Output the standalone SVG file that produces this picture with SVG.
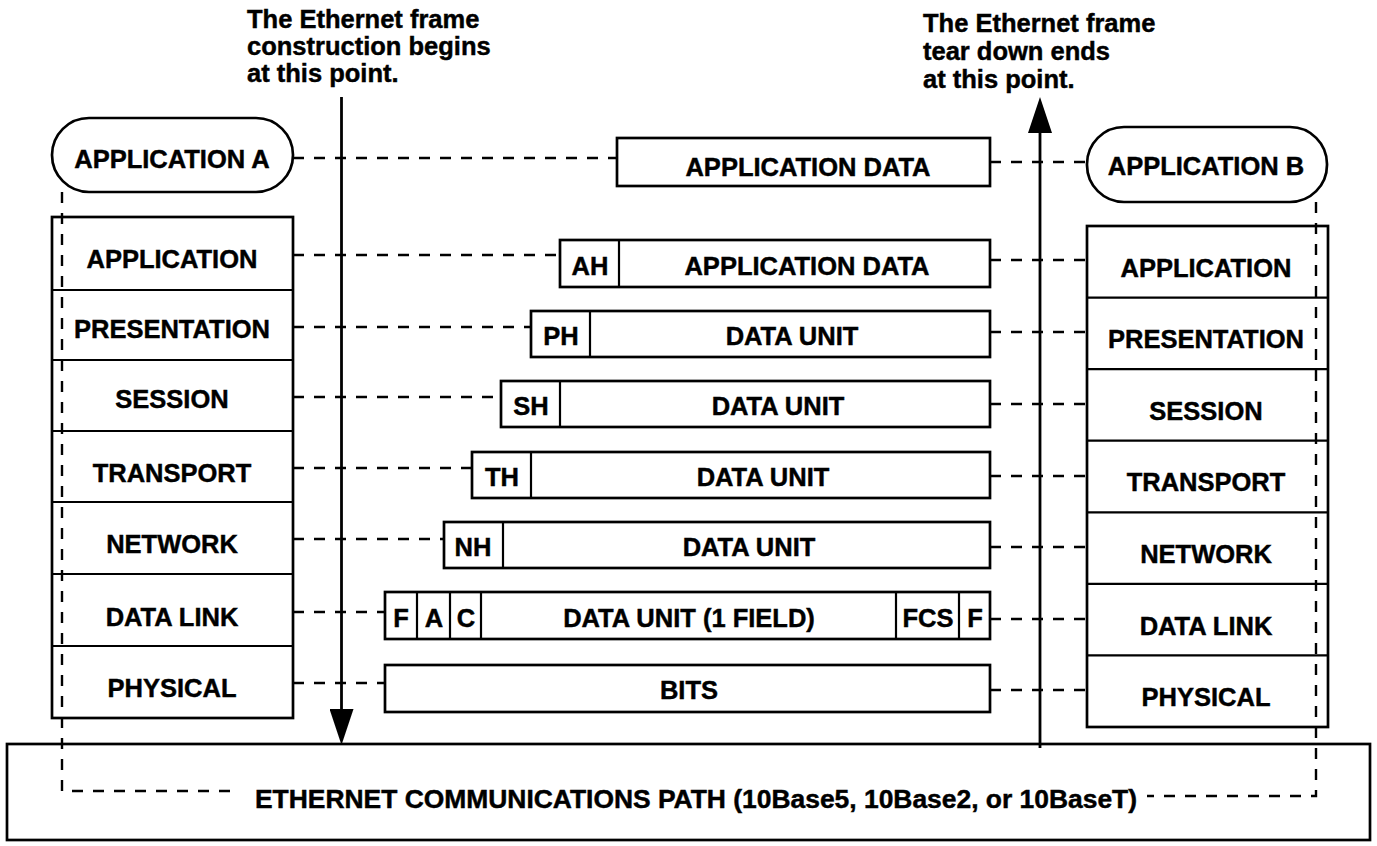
<svg xmlns="http://www.w3.org/2000/svg" width="1377" height="846" viewBox="0 0 1377 846">
<defs>
<style>
.box{fill:#fff;stroke:#000;stroke-width:2.7}
.div{stroke:#000;stroke-width:2.2}
.dash{fill:none;stroke:#000;stroke-width:2.4;stroke-dasharray:11 10}
.arr{stroke:#000;stroke-width:2.8;fill:none}
.t{font-family:"Liberation Sans",Arial,Helvetica,sans-serif;font-weight:bold;font-size:25.5px;fill:#000;stroke:#000;stroke-width:0.45}
.c{text-anchor:middle}
</style>
<marker id="ah" viewBox="0 0 36 24" refX="26" refY="12" markerWidth="36" markerHeight="24" markerUnits="userSpaceOnUse" orient="auto">
<path d="M0,0 L36,12 L0,24 Z" fill="#000"/>
</marker>
</defs>
<rect width="1377" height="846" fill="#fff"/>

<!-- Ethernet path box -->
<g id="ethernet-path">
<rect class="box" x="7" y="744" width="1363" height="96"/>
<text class="t" x="255" y="808" textLength="882" lengthAdjust="spacingAndGlyphs">ETHERNET COMMUNICATIONS PATH (10Base5, 10Base2, or 10BaseT)</text>
</g>

<!-- Annotations -->
<g id="note-left">
<text class="t" x="247" y="28">The Ethernet frame</text>
<text class="t" x="247" y="55">construction begins</text>
<text class="t" x="247" y="82">at this point.</text>
</g>
<g id="note-right">
<text class="t" x="923" y="32">The Ethernet frame</text>
<text class="t" x="923" y="60">tear down ends</text>
<text class="t" x="923" y="88">at this point.</text>
</g>

<!-- Application A / B -->
<g id="app-a">
<rect class="box" x="52" y="118" width="241" height="74" rx="37" ry="37"/>
<text class="t c" x="172" y="168">APPLICATION A</text>
</g>
<g id="app-b">
<rect class="box" x="1087" y="127" width="240" height="75" rx="37" ry="37"/>
<text class="t c" x="1206" y="175">APPLICATION B</text>
</g>

<!-- Left stack -->
<g id="stack-a">
<rect class="box" x="52" y="217" width="241" height="501"/>
<line class="div" x1="52" y1="290" x2="293" y2="290"/>
<line class="div" x1="52" y1="360" x2="293" y2="360"/>
<line class="div" x1="52" y1="431" x2="293" y2="431"/>
<line class="div" x1="52" y1="502" x2="293" y2="502"/>
<line class="div" x1="52" y1="574" x2="293" y2="574"/>
<line class="div" x1="52" y1="646" x2="293" y2="646"/>
<text class="t c" x="172" y="268">APPLICATION</text>
<text class="t c" x="172" y="338">PRESENTATION</text>
<text class="t c" x="172" y="408">SESSION</text>
<text class="t c" x="172" y="482">TRANSPORT</text>
<text class="t c" x="172" y="553">NETWORK</text>
<text class="t c" x="172" y="626">DATA LINK</text>
<text class="t c" x="172" y="697">PHYSICAL</text>
</g>

<!-- Right stack -->
<g id="stack-b">
<rect class="box" x="1087" y="226" width="241" height="501"/>
<line class="div" x1="1087" y1="297.6" x2="1328" y2="297.6"/>
<line class="div" x1="1087" y1="369.1" x2="1328" y2="369.1"/>
<line class="div" x1="1087" y1="440.7" x2="1328" y2="440.7"/>
<line class="div" x1="1087" y1="512.3" x2="1328" y2="512.3"/>
<line class="div" x1="1087" y1="583.9" x2="1328" y2="583.9"/>
<line class="div" x1="1087" y1="655.4" x2="1328" y2="655.4"/>
<text class="t c" x="1206" y="277">APPLICATION</text>
<text class="t c" x="1206" y="348">PRESENTATION</text>
<text class="t c" x="1206" y="420">SESSION</text>
<text class="t c" x="1206" y="491">TRANSPORT</text>
<text class="t c" x="1206" y="563">NETWORK</text>
<text class="t c" x="1206" y="635">DATA LINK</text>
<text class="t c" x="1206" y="706">PHYSICAL</text>
</g>

<!-- Middle data units -->
<g id="pdu-app">
<rect class="box" x="617" y="138" width="373" height="48"/>
<text class="t c" x="808" y="176">APPLICATION DATA</text>
</g>
<g id="pdu-ah">
<rect class="box" x="560" y="240" width="430" height="47"/>
<line class="div" x1="619" y1="240" x2="619" y2="287"/>
<text class="t c" x="590" y="275">AH</text>
<text class="t c" x="807" y="275">APPLICATION DATA</text>
</g>
<g id="pdu-ph">
<rect class="box" x="531" y="311" width="459" height="46"/>
<line class="div" x1="590" y1="311" x2="590" y2="357"/>
<text class="t c" x="561" y="345">PH</text>
<text class="t c" x="792" y="345">DATA UNIT</text>
</g>
<g id="pdu-sh">
<rect class="box" x="501" y="381" width="489" height="46"/>
<line class="div" x1="560" y1="381" x2="560" y2="427"/>
<text class="t c" x="531" y="415">SH</text>
<text class="t c" x="778" y="415">DATA UNIT</text>
</g>
<g id="pdu-th">
<rect class="box" x="472" y="452" width="518" height="46"/>
<line class="div" x1="531" y1="452" x2="531" y2="498"/>
<text class="t c" x="502" y="486">TH</text>
<text class="t c" x="763" y="486">DATA UNIT</text>
</g>
<g id="pdu-nh">
<rect class="box" x="444" y="522" width="546" height="46"/>
<line class="div" x1="503" y1="522" x2="503" y2="568"/>
<text class="t c" x="473" y="556">NH</text>
<text class="t c" x="749" y="556">DATA UNIT</text>
</g>
<g id="pdu-frame">
<rect class="box" x="385" y="592" width="605" height="47"/>
<line class="div" x1="417" y1="592" x2="417" y2="639"/>
<line class="div" x1="450" y1="592" x2="450" y2="639"/>
<line class="div" x1="481" y1="592" x2="481" y2="639"/>
<line class="div" x1="896" y1="592" x2="896" y2="639"/>
<line class="div" x1="959" y1="592" x2="959" y2="639"/>
<text class="t c" x="401" y="627">F</text>
<text class="t c" x="434" y="627">A</text>
<text class="t c" x="466" y="627">C</text>
<text class="t c" x="689" y="627">DATA UNIT (1 FIELD)</text>
<text class="t c" x="928" y="627">FCS</text>
<text class="t c" x="975" y="627">F</text>
</g>
<g id="pdu-bits">
<rect class="box" x="385" y="665" width="605" height="47"/>
<text class="t c" x="689" y="699">BITS</text>
</g>

<!-- Connectors -->
<g id="connectors">
<line class="dash" x1="293" y1="158" x2="617" y2="158"/>
<line class="dash" x1="990" y1="162" x2="1087" y2="162"/>
<line class="dash" x1="293" y1="255" x2="560" y2="255"/>
<line class="dash" x1="990" y1="260" x2="1087" y2="260"/>
<line class="dash" x1="293" y1="327" x2="531" y2="327"/>
<line class="dash" x1="990" y1="332" x2="1087" y2="332"/>
<line class="dash" x1="293" y1="397" x2="501" y2="397"/>
<line class="dash" x1="990" y1="404" x2="1087" y2="404"/>
<line class="dash" x1="293" y1="468" x2="472" y2="468"/>
<line class="dash" x1="990" y1="476" x2="1087" y2="476"/>
<line class="dash" x1="293" y1="539" x2="444" y2="539"/>
<line class="dash" x1="990" y1="547" x2="1087" y2="547"/>
<line class="dash" x1="293" y1="612" x2="385" y2="612"/>
<line class="dash" x1="990" y1="619" x2="1087" y2="619"/>
<line class="dash" x1="293" y1="683" x2="385" y2="683"/>
<line class="dash" x1="990" y1="690" x2="1087" y2="690"/>
<polyline class="dash" points="62,192 62,791 238,791"/>
<polyline class="dash" points="1316,202 1316,796 1147,796"/>
<line class="arr" x1="341.5" y1="97" x2="341.5" y2="735" marker-end="url(#ah)"/>
<line class="arr" x1="1040" y1="748" x2="1040" y2="107" marker-end="url(#ah)"/>
</g>
</svg>
